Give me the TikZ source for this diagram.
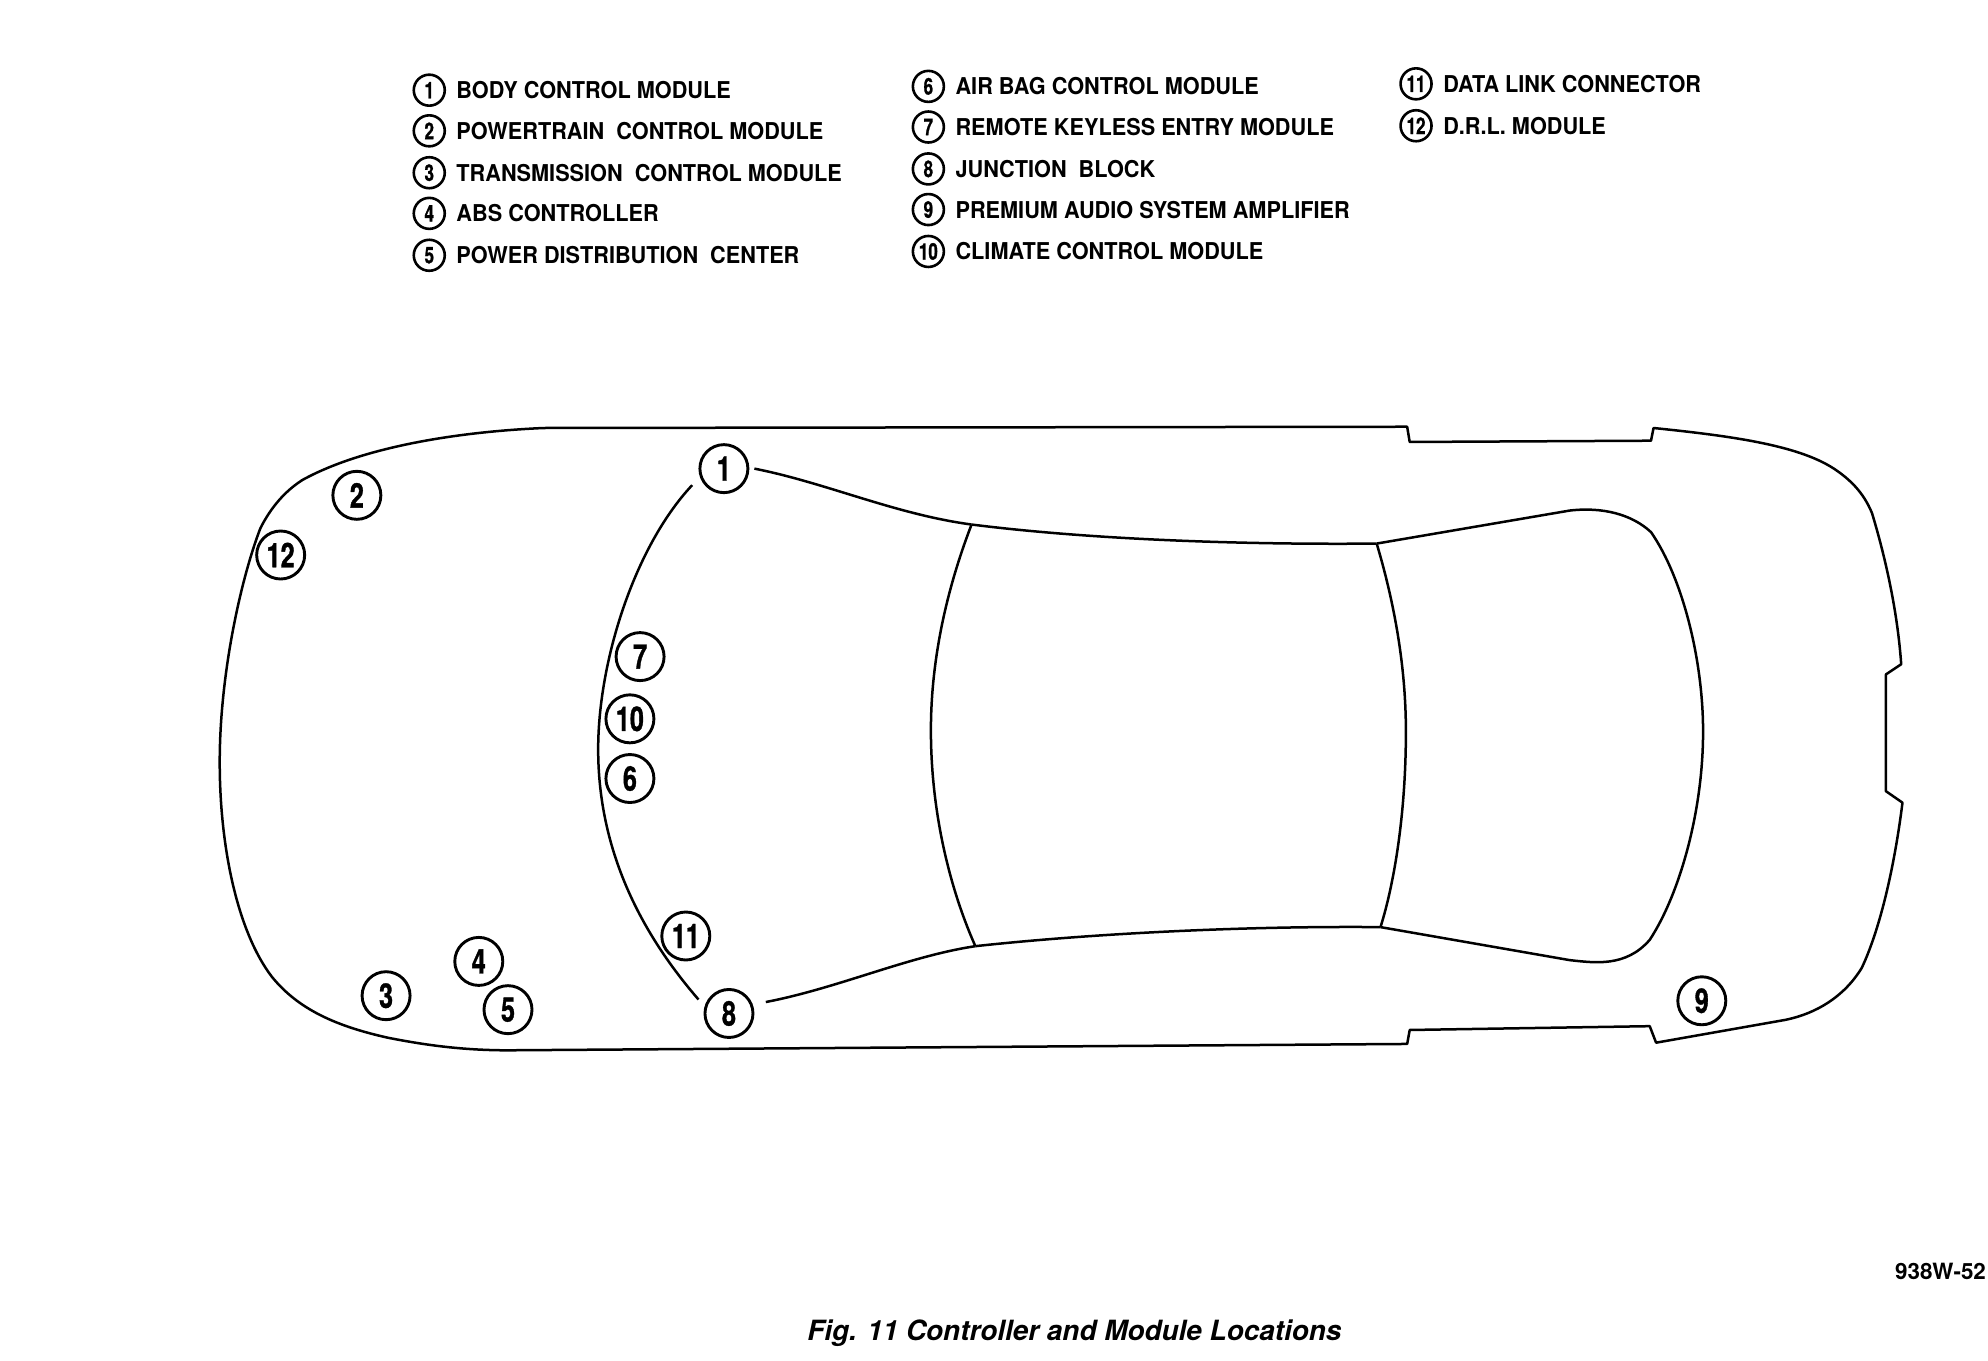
\documentclass[tikz,border=0pt]{standalone}
\usepackage{fontspec}
\usepackage{tikz}
\usetikzlibrary{positioning}
\setmainfont{TeX Gyre Heros}
\newfontfamily\tagfont[FakeStretch=0.74,FakeBold=1]{TeX Gyre Heros}
\newfontfamily\legendfont[FakeStretch=0.935]{TeX Gyre Heros}

\tikzset{
  tagbig/.style={draw,circle,line width=1.45pt,minimum size=24pt,inner sep=0pt,font=\tagfont\bfseries\fontsize{17}{17}\selectfont},
  tagsmall/.style={draw,circle,line width=1.3pt,minimum size=15.5pt,inner sep=0pt,font=\tagfont\bfseries\fontsize{11.5}{11.5}\selectfont},
  legend/.style={inner sep=0pt,text height=8.5pt,text depth=0pt,font=\legendfont\bfseries\fontsize{11.6}{12}\selectfont},
  carline/.style={line width=1.25pt,line join=round}
}

\begin{document}
\begin{tikzpicture}[x=0.635pt,y=-0.635pt]
  \useasboundingbox (0,0) rectangle (1565.35,1070.87);

  % legend
  \node[tagsmall] (l1) at (338,71) {1};
  \node[legend] (t1)[right=5pt of l1] {BODY CONTROL MODULE};
  \node[tagsmall] (l2) at (338,103) {2};
  \node[legend] (t2)[right=5pt of l2] {POWERTRAIN\ \ CONTROL MODULE};
  \node[tagsmall] (l3) at (338,136) {3};
  \node[legend] (t3)[right=5pt of l3] {TRANSMISSION\ \ CONTROL MODULE};
  \node[tagsmall] (l4) at (338,168) {4};
  \node[legend] (t4)[right=5pt of l4] {ABS CONTROLLER};
  \node[tagsmall] (l5) at (338,201) {5};
  \node[legend] (t5)[right=5pt of l5] {POWER DISTRIBUTION\ \ CENTER};

  \node[tagsmall] (l6) at (731,68) {6};
  \node[legend] (t6)[right=5pt of l6] {AIR BAG CONTROL MODULE};
  \node[tagsmall] (l7) at (731,100) {7};
  \node[legend] (t7)[right=5pt of l7] {REMOTE KEYLESS ENTRY MODULE};
  \node[tagsmall] (l8) at (731,133) {8};
  \node[legend] (t8)[right=5pt of l8] {JUNCTION\ \ BLOCK};
  \node[tagsmall] (l9) at (731,165) {9};
  \node[legend] (t9)[right=5pt of l9] {PREMIUM AUDIO SYSTEM AMPLIFIER};
  \node[tagsmall] (l10) at (731,198) {10};
  \node[legend] (t10)[right=5pt of l10] {CLIMATE CONTROL MODULE};

  \node[tagsmall] (l11) at (1115,66) {11};
  \node[legend] (t11)[right=5pt of l11] {DATA LINK CONNECTOR};
  \node[tagsmall] (l12) at (1115,99) {12};
  \node[legend] (t12)[right=5pt of l12] {D.R.L. MODULE};

  % module positions
  \node[tagbig] (n1) at (570,369) {1};
  \node[tagbig] (n2) at (281,390) {2};
  \node[tagbig] (n3) at (304,784) {3};
  \node[tagbig] (n4) at (377,757) {4};
  \node[tagbig] (n5) at (400,795) {5};
  \node[tagbig] (n6) at (496,613) {6};
  \node[tagbig] (n7) at (504,517) {7};
  \node[tagbig] (n8) at (574,798) {8};
  \node[tagbig] (n9) at (1340,788) {9};
  \node[tagbig] (n10) at (496,566) {10};
  \node[tagbig] (n11) at (540,737) {11};
  \node[tagbig] (n12) at (221,437) {12};

  % ends of the lines that stop short of a circle
  \coordinate (a1) at (545,382);
  \coordinate (a8) at (550,787);
  \coordinate (r1) at (594,369);
  \coordinate (r8) at (603,789);
  % corners of the roof
  \coordinate (fl) at (765,413);
  \coordinate (fr) at (768,745);
  \coordinate (bl) at (1084,428);
  \coordinate (br) at (1087,730);

  % body
  \draw[carline] (428,337) -- (1108,336) -- (1110,348) -- (1300,347) -- (1302,337)
    .. controls (1360,343) and (1415,350) .. (1444,369)
    .. controls (1456,377) and (1467,387) .. (1474,404)
    .. controls (1484,437) and (1494,480) .. (1497,523)
    -- (1485,531) -- (1485,623) -- (1498,632)
    .. controls (1492,680) and (1481,730) .. (1466,762)
    .. controls (1452,785) and (1430,798) .. (1406,803)
    -- (1304,821) -- (1299,808) -- (1110,811) -- (1108,822) -- (400,827)
    .. controls (365,827) and (335,823) .. (305,817)
    .. controls (265,808) and (235,795) .. (214,769)
    .. controls (188,735) and (173,670) .. (173,600)
    .. controls (173,530) and (190,455) .. (205,416)
    .. controls (213,400) and (224,387) .. (238,378)
    .. controls (285,352) and (360,340) .. (428,337) -- cycle;

  % cowl
  \draw[carline] (a1) .. controls (500,430) and (471,520) .. (471,590)
    .. controls (471,670) and (505,735) .. (a8);

  % glass
  \draw[carline] (r1) .. controls (650,380) and (705,405) .. (fl);
  \draw[carline] (r8) .. controls (660,778) and (715,753) .. (fr);
  \draw[carline] (fl) .. controls (860,425) and (980,429) .. (bl);
  \draw[carline] (fr) .. controls (860,735) and (980,729) .. (br);
  \draw[carline] (fl) .. controls (745,465) and (733,520) .. (733,575)
    .. controls (733,640) and (748,700) .. (fr);
  \draw[carline] (bl) .. controls (1098,475) and (1107,525) .. (1107,576)
    .. controls (1107,640) and (1098,695) .. (br);
  \draw[carline] (bl) -- (1236,402)
    .. controls (1262,399) and (1285,405) .. (1300,419)
    .. controls (1325,455) and (1341,520) .. (1341,576)
    .. controls (1341,640) and (1322,705) .. (1299,740)
    .. controls (1280,762) and (1255,758) .. (1236,756)
    -- (br);

  % captions
  \node[inner sep=0pt,font=\bfseries\fontsize{11.2}{11}\selectfont,anchor=east] (code) at (1564,1001) {938W-52};
  \node[inner sep=0pt,font=\bfseries\itshape\fontsize{13.95}{14}\selectfont] (cap) at (846,1050) {Fig. 11 Controller and Module Locations};
\end{tikzpicture}
\end{document}
